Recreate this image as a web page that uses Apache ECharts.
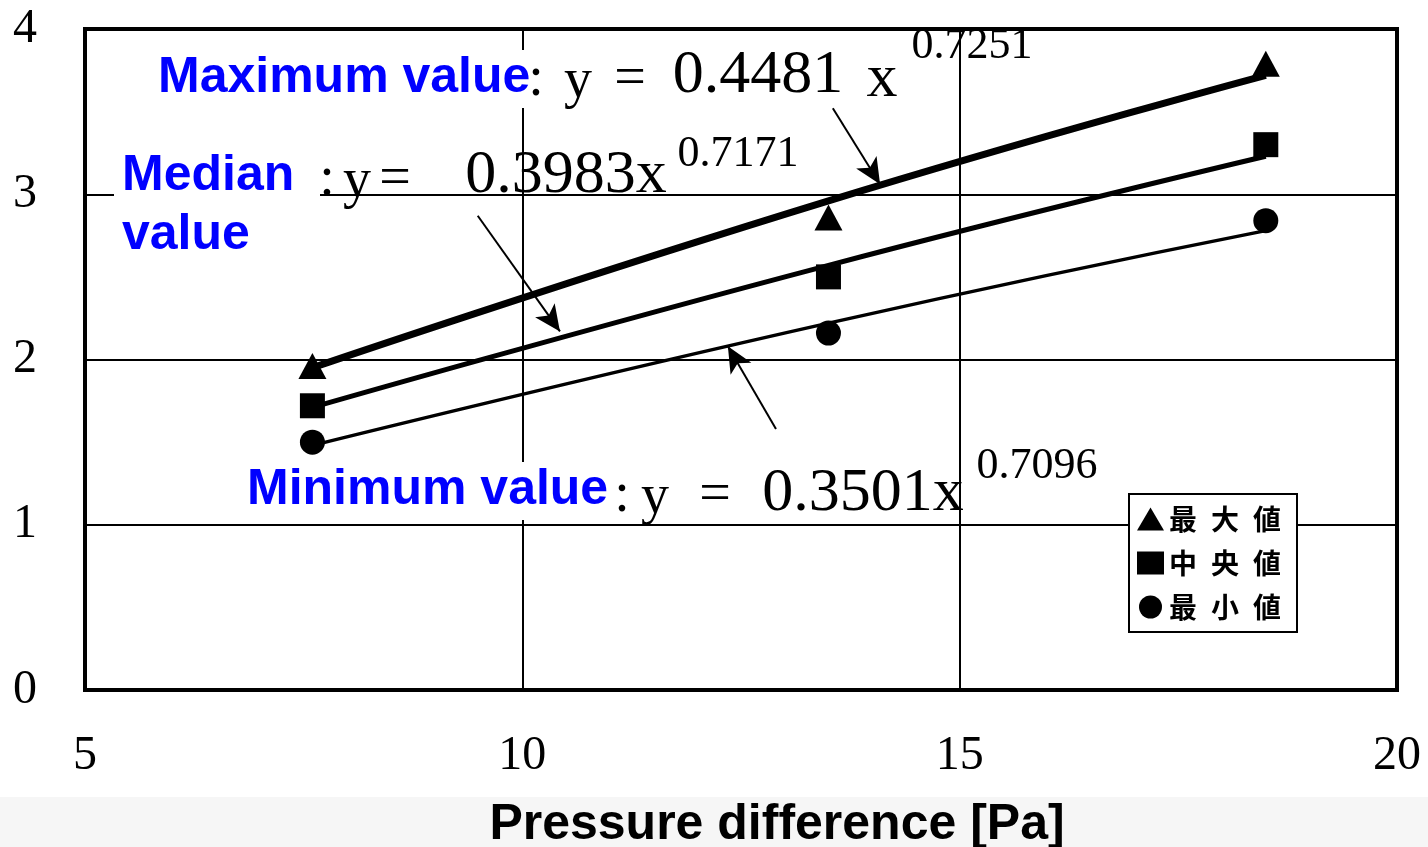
<!DOCTYPE html>
<html>
<head>
<meta charset="utf-8">
<script src="https://cdn.jsdelivr.net/npm/echarts@6/dist/echarts.min.js"></script>
<style>html,body{margin:0;padding:0;background:#fff}#c{width:1428px;height:847px}</style>
</head>
<body>
<div id="c"></div>
<script>
// ---- data ----
const xValues = [7.6, 13.5, 18.5];
const maxValues = [1.96, 2.86, 3.79];
const medianValues = [1.72, 2.50, 3.30];
const minValues = [1.50, 2.16, 2.84];
const maxTrend = [1.95, 2.96, 3.72];
const medianTrend = [1.71, 2.57, 3.23];
const minTrend = [1.48, 2.22, 2.78];
const seriesNames = ['最大値', '中央値', '最小値'];
const xTickLabels = ['5', '10', '15', '20'];
const yTickLabels = ['0', '1', '2', '3', '4'];
const xAxisTitle = 'Pressure difference [Pa]';
// arrow annotations in data coordinates [from, to]
const maxArrow = [[13.55, 3.52], [14.09, 3.06]];
const medianArrow = [[9.49, 2.87], [10.43, 2.17]];
const minArrow = [[12.90, 1.58], [12.35, 2.08]];

const pairs = (xs, ys) => xs.map((x, i) => [x, ys[i]]);
const SERIF = '"Liberation Serif", "DejaVu Serif", serif';
const SANS = '"Liberation Sans", Arial, sans-serif';

const chart = echarts.init(document.getElementById('c'), null, {renderer: 'canvas'});

function arrowLine(a) {
  return [{coord: a[0], symbol: 'none'}, {coord: a[1], symbol: 'arrow'}];
}

function txt(x, y, text, size, align) {
  return {
    type: 'text', x: x, y: y, z: 100,
    style: {text: text, fill: '#000', font: size + 'px ' + SERIF, textAlign: align || 'center', textVerticalAlign: 'middle'}
  };
}
function blue(x, y, text) {
  return {type: 'text', x: x, y: y, z: 101,
    style: {text: text, fill: '#0000ff', font: 'bold 50px ' + SANS, textAlign: 'left', textVerticalAlign: 'middle'}};
}
function whiteBox(x, y, w, h) {
  return {type: 'rect', z: 99, shape: {x: x, y: y, width: w, height: h}, style: {fill: '#fff'}};
}
const arrowStyle = {silent: true, symbolSize: [18, 26], lineStyle: {color: '#000', width: 2, type: 'solid'}, label: {show: false}};

const option = {
  backgroundColor: '#fff',
  animation: false,
  grid: {left: 85, right: 31, top: 29, bottom: 157, show: true, borderColor: '#000', borderWidth: 4, backgroundColor: 'transparent', z: 3},
  xAxis: {
    type: 'value', min: 5, max: 20, interval: 5,
    axisLine: {show: true, lineStyle: {color: '#000', width: 4}},
    axisTick: {show: false},
    splitLine: {show: true, lineStyle: {color: '#000', width: 2}},
    axisLabel: {
      margin: 42, color: '#000', fontSize: 48, fontFamily: SERIF,
      formatter: function (v) { return xTickLabels[Math.round((v - 5) / 5)]; }
    }
  },
  yAxis: {
    type: 'value', min: 0, max: 4, interval: 1,
    axisLine: {show: true, lineStyle: {color: '#000', width: 4}},
    axisTick: {show: false},
    splitLine: {show: true, lineStyle: {color: '#000', width: 2}},
    axisLabel: {
      margin: 48, color: '#000', fontSize: 48, fontFamily: SERIF,
      formatter: function (v) { return yTickLabels[Math.round(v)]; }
    }
  },
  legend: {
    show: true, orient: 'vertical', left: 1129, top: 494,
    padding: [8, 16, 8, 8], itemGap: 10, itemWidth: 27, itemHeight: 23, itemTextGap: 8,
    backgroundColor: '#fff', borderColor: '#000', borderWidth: 2, borderRadius: 0,
    data: [
      {name: seriesNames[0], icon: 'triangle'},
      {name: seriesNames[1], icon: 'rect'},
      {name: seriesNames[2], icon: 'circle'}
    ],
    formatter: function (n) { return n.split('').join('\u2002'); },
    textStyle: {color: '#000', fontSize: 28, fontWeight: 'bold', fontFamily: '"Noto Sans CJK JP", sans-serif', lineHeight: 34},
    itemStyle: {color: '#000'},
    z: 20
  },
  series: [
    {name: seriesNames[0], type: 'scatter', data: pairs(xValues, maxValues), symbol: 'triangle', symbolSize: [28, 26], itemStyle: {color: '#000', opacity: 1}, z: 4},
    {name: seriesNames[1], type: 'scatter', data: pairs(xValues, medianValues), symbol: 'rect', symbolSize: 25, itemStyle: {color: '#000', opacity: 1}, z: 4},
    {name: seriesNames[2], type: 'scatter', data: pairs(xValues, minValues), symbol: 'circle', symbolSize: 25, itemStyle: {color: '#000', opacity: 1}, z: 4},
    {name: 'trendMax', type: 'line', data: pairs(xValues, maxTrend), smooth: true, symbol: 'none', lineStyle: {color: '#000', width: 7}, z: 5,
      markLine: Object.assign({data: [arrowLine(maxArrow)]}, arrowStyle)},
    {name: 'trendMedian', type: 'line', data: pairs(xValues, medianTrend), smooth: true, symbol: 'none', lineStyle: {color: '#000', width: 5}, z: 5,
      markLine: Object.assign({data: [arrowLine(medianArrow)]}, arrowStyle)},
    {name: 'trendMin', type: 'line', data: pairs(xValues, minTrend), smooth: true, symbol: 'none', lineStyle: {color: '#000', width: 3.5}, z: 5,
      markLine: Object.assign({data: [arrowLine(minArrow)]}, arrowStyle)}
  ],
  graphic: [
    {type: 'rect', z: -1, shape: {x: 0, y: 797, width: 1428, height: 50}, style: {fill: '#f6f6f6'}},
    {type: 'text', x: 777, y: 825, z: 100, style: {text: xAxisTitle, fill: '#000', font: 'bold 50px ' + SANS, textAlign: 'center', textVerticalAlign: 'middle'}},
    // Maximum
    whiteBox(150, 50, 384, 58),
    blue(158, 78, 'Maximum value'),
    txt(536, 80, ':', 56),
    txt(578, 82, 'y', 56),
    txt(630, 80, '=', 56),
    txt(758, 76, '0.4481', 62),
    txt(882, 80, 'x', 62),
    txt(972, 46, '0.7251', 44),
    // Median
    whiteBox(114, 148, 206, 114),
    blue(122, 176, 'Median'),
    blue(122, 235, 'value'),
    txt(327, 180, ':', 56),
    txt(357, 182, 'y', 56),
    txt(395, 180, '=', 56),
    txt(566, 176, '0.3983x', 62),
    txt(738, 154, '0.7171', 44),
    // Minimum
    whiteBox(240, 462, 372, 58),
    blue(247, 490, 'Minimum value'),
    txt(622, 496, ':', 56),
    txt(655, 498, 'y', 56),
    txt(715, 496, '=', 56),
    txt(863, 494, '0.3501x', 62),
    txt(1037, 466, '0.7096', 44)
  ]
};
chart.setOption(option);
</script>
</body>
</html>
